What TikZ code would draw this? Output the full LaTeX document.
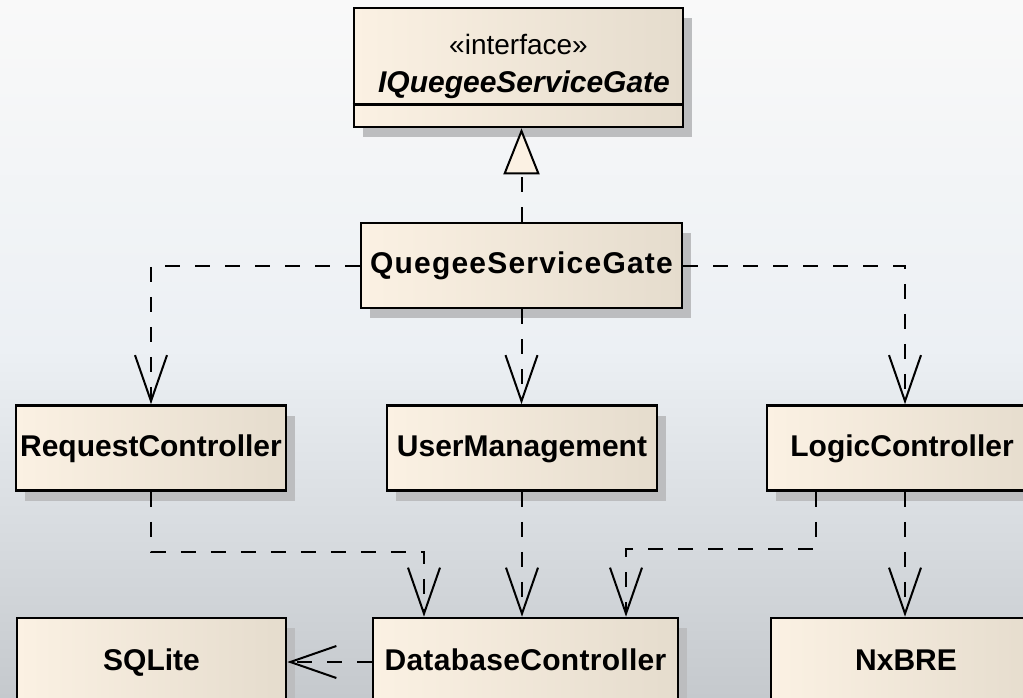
\documentclass[tikz,border=0pt]{standalone}
\usepackage{fontspec}
\setmainfont{Liberation Sans}
\usetikzlibrary{arrows.meta,shadows,calc}
\definecolor{creamL}{RGB}{251,241,227}
\definecolor{creamR}{RGB}{229,220,205}
\definecolor{shadowc}{RGB}{188,189,191}
\definecolor{bgtop}{RGB}{249,249,249}
\definecolor{bgmid}{RGB}{236,240,244}
\definecolor{bgbot}{RGB}{197,201,205}
\tikzset{
  umlbox/.style={draw=black, line width=2.6pt, rectangle, inner sep=0pt,
    left color=creamL, right color=creamR,
    text height=22pt, text depth=6pt,
    drop shadow={shadow xshift=9pt, shadow yshift=-10pt, fill=shadowc, opacity=1},
    font=\fontsize{30}{34}\selectfont\bfseries},
  dep/.style={line width=2pt, dash pattern=on 15pt off 15pt,
    -{Straight Barb[length=46pt,width=32pt,line width=2pt]}},
  real/.style={line width=2pt, dash pattern=on 15pt off 15pt,
    -{Triangle[length=46pt,width=36pt,fill=creamL,line width=2pt]}},
  txt/.style={inner sep=0pt, font=\fontsize{28}{34}\selectfont}
}
\begin{document}
\begin{tikzpicture}[x=1pt,y=-1pt]
\useasboundingbox (0,0) rectangle (1023,698);
\clip (0,0) rectangle (1023,698);
\shade[top color=bgtop, bottom color=bgbot, middle color=bgmid] (0,0) rectangle (1023,698);

% interface
\node[umlbox, minimum width=329pt, minimum height=119pt, text height=0pt, text depth=0pt] (iface) at (518.5,67.5) {};
\draw[line width=2.6pt] ($(iface.south west)+(0,-24)$) -- ($(iface.south east)+(0,-24)$);
\node[txt] (ifst) at (518.5,44) {«interface»};
\node[txt, font=\fontsize{30}{34}\selectfont\bfseries\itshape] (ifname) at (524,85) {IQuegeeServiceGate};

\node[umlbox, minimum width=321pt, minimum height=85pt] (gate) at (521.5,265.5) {\addfontfeature{LetterSpace=4}QuegeeServiceGate};

\node[umlbox, minimum width=270pt, minimum height=85pt] (req) at (151,448) {RequestController};
\node[umlbox, minimum width=270pt, minimum height=85pt] (user) at (522,448) {UserManagement};
\node[umlbox, minimum width=276pt, minimum height=85pt] (logic) at (905,448) {\hspace*{-6pt}LogicController};

\node[umlbox, minimum width=269pt, minimum height=88pt] (sqlite) at (151.5,662) {SQLite};
\node[umlbox, minimum width=305pt, minimum height=88pt] (db) at (525.5,662) {\addfontfeature{LetterSpace=1}DatabaseController};
\node[umlbox, minimum width=270pt, minimum height=88pt] (nx) at (906,662) {NxBRE};

% connectors
\draw[real] (gate.north) -- (gate.north |- iface.south);
\draw[dep] (gate.west) -| (req.north);
\draw[dep] (gate.south) -- (gate.south |- user.north);
\draw[dep] (gate.east) -| (logic.north);

\coordinate (j1) at (424,552);
\draw[dep] (req.south) |- (j1) -- (j1 |- db.north);
\draw[dep] (user.south) -- (user.south |- db.north);
\coordinate (l1) at ($(logic.south west)+(50,0)$);
\coordinate (j2) at (626,549);
\draw[dep] (l1) |- (j2) -- (j2 |- db.north);
\draw[dep] (logic.south) -- (logic.south |- nx.north);
\draw[dep] (db.west) -- (db.west -| sqlite.east);
\end{tikzpicture}
\end{document}
